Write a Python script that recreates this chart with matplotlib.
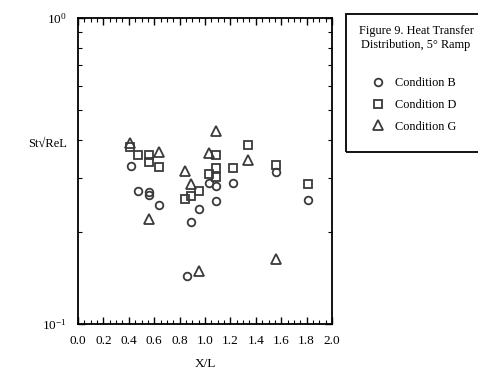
import matplotlib
matplotlib.use("Agg")
import matplotlib.pyplot as plt
from matplotlib.patches import Rectangle
from matplotlib.ticker import MultipleLocator, LogLocator, NullFormatter

plt.rcParams['font.family'] = ['Liberation Serif', 'DejaVu Serif']
plt.rcParams['mathtext.fontset'] = 'stix'

# Condition B (circles)
xb = [0.415, 0.47, 0.56, 0.56, 0.635, 0.86, 0.89, 0.95, 1.03, 1.09, 1.09, 1.22, 1.56, 1.81]
yb = [0.328, 0.273, 0.271, 0.264, 0.245, 0.1435, 0.216, 0.237, 0.29, 0.282, 0.253, 0.29, 0.315, 0.254]
# Condition D (squares)
xd = [0.41, 0.47, 0.56, 0.56, 0.635, 0.84, 0.89, 0.95, 1.03, 1.09, 1.09, 1.09, 1.22, 1.34, 1.56, 1.81]
yd = [0.38, 0.358, 0.358, 0.339, 0.326, 0.257, 0.262, 0.272, 0.31, 0.358, 0.324, 0.302, 0.324, 0.386, 0.331, 0.286]
# Condition G (triangles)
xg = [0.41, 0.56, 0.635, 0.84, 0.89, 0.95, 1.03, 1.09, 1.34, 1.56]
yg = [0.391, 0.221, 0.365, 0.316, 0.286, 0.149, 0.361, 0.427, 0.343, 0.163]

W, H = 478, 372
fig = plt.figure(figsize=(W / 100, H / 100), dpi=100)
ax = fig.add_axes([78 / W, 1 - 324 / H, (332 - 78) / W, (324 - 18) / H])

gray = '#3a3a3a'
kw = dict(linestyle='none', markerfacecolor='none', markeredgecolor=gray, markeredgewidth=1.3)
hb, = ax.plot(xb, yb, 'o', markersize=5.5, label='Condition B', **kw)
hd, = ax.plot(xd, yd, 's', markersize=5.5, label='Condition D', **kw)
hg, = ax.plot(xg, yg, '^', markersize=7.5, label='Condition G', **kw)

ax.set_yscale('log')
ax.set_xlim(0, 2.0)
ax.set_ylim(0.1, 1.0)
ax.xaxis.set_major_locator(MultipleLocator(0.2))
ax.xaxis.set_minor_locator(MultipleLocator(0.05))
ax.xaxis.set_major_formatter(plt.FuncFormatter(lambda v, p: f"{v:.1f}"))
ax.yaxis.set_major_locator(LogLocator(base=10))
ax.yaxis.set_minor_locator(LogLocator(base=10, subs=range(2, 10)))
ax.yaxis.set_minor_formatter(NullFormatter())
ax.tick_params(which='both', direction='in', top=True, right=True, labelsize=9.5, colors='black')
ax.tick_params(which='major', length=5, width=1)
ax.tick_params(which='minor', length=3, width=0.8)
ax.tick_params(axis='x', pad=8)
ax.tick_params(axis='y', pad=8)
for s in ax.spines.values():
    s.set_linewidth(1.3)

ax.set_xlabel('X/L', fontsize=9.5, labelpad=8)
ax.set_ylabel('St\u221aReL', fontsize=9, rotation=0, ha='center', va='center')
ax.yaxis.set_label_coords(-0.12, 0.59)

# legend box
fig.patches.append(Rectangle((346 / W, 1 - 152 / H), 150 / W, 138 / H,
                             transform=fig.transFigure, fill=False,
                             edgecolor='black', linewidth=1.3, clip_on=False))
fig.text(416 / W, 1 - 38 / H, 'Figure 9. Heat Transfer\nDistribution, 5\u00b0 Ramp',
         ha='center', va='center', fontsize=8.8, linespacing=1.3)
fig.legend(handles=[hb, hd, hg], loc='upper left',
           bbox_to_anchor=(360 / W, 1 - 66 / H), frameon=False,
           fontsize=8.8, handletextpad=0.8, labelspacing=0.8, handlelength=1.2)

fig.savefig('out.png', dpi=100)
